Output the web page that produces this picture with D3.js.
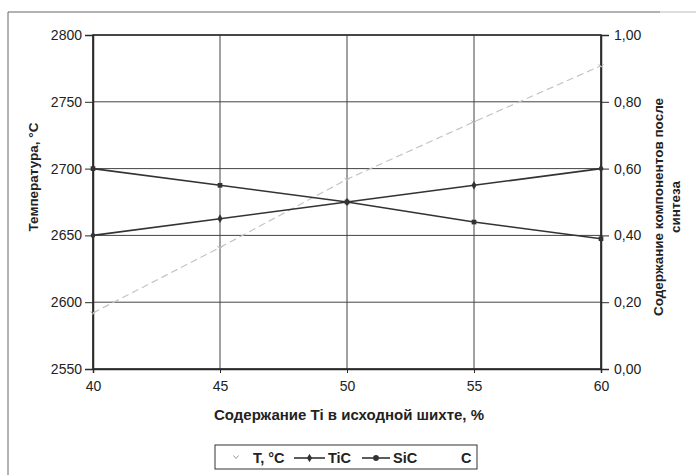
<!DOCTYPE html>
<html><head><meta charset="utf-8">
<script src="https://cdn.jsdelivr.net/npm/d3@7"></script>
<style>body{margin:0;background:#fff}svg{display:block}text{font-family:"Liberation Sans",Arial,sans-serif;fill:#222}</style>
</head><body><svg id="c" width="696" height="475"></svg>
<script>
const tiContent = [40, 45, 50, 55, 60];
const temperature = [2592, 2641, 2692, 2735, 2777];
const tic = [0.40, 0.45, 0.50, 0.55, 0.60];
const sic = [0.60, 0.55, 0.50, 0.44, 0.39];
const leftTicks = [2550, 2600, 2650, 2700, 2750, 2800];
const rightTicks = [0, 0.2, 0.4, 0.6, 0.8, 1.0];
const xTicks = [40, 45, 50, 55, 60];
const legendLabels = ["T, °C", "TiC", "SiC", "C"];

const svg = d3.select("#c");
const L = 93, R = 601, T = 35, B = 369;
const x = d3.scaleLinear().domain([40, 60]).range([L, R]);
const yL = d3.scaleLinear().domain([2550, 2800]).range([B, T]);
const yR = d3.scaleLinear().domain([0, 1]).range([B, T]);
const ink = "#2a2a2a";

// outer frame fragments
svg.append("line").attr("x1", 8).attr("x2", 660).attr("y1", 12).attr("y2", 12).attr("stroke", "#666").attr("stroke-width", 1);
svg.append("line").attr("x1", 660).attr("x2", 696).attr("y1", 12).attr("y2", 12).attr("stroke", "#bbb").attr("stroke-width", 1);
svg.append("line").attr("x1", 8).attr("x2", 8).attr("y1", 12).attr("y2", 475).attr("stroke", "#666").attr("stroke-width", 1);

// gridlines
const g = svg.append("g");
g.selectAll(".hg").data(leftTicks).join("line")
  .attr("x1", L).attr("x2", R).attr("y1", d => yL(d)).attr("y2", d => yL(d))
  .attr("stroke", "#444").attr("stroke-width", 1);
g.selectAll(".vg").data(xTicks).join("line")
  .attr("x1", d => x(d)).attr("x2", d => x(d)).attr("y1", T).attr("y2", B)
  .attr("stroke", "#444").attr("stroke-width", 1);
// border
svg.append("rect").attr("x", L).attr("y", T).attr("width", R - L).attr("height", B - T)
  .attr("fill", "none").attr("stroke", ink).attr("stroke-width", 1.5);

// axes
const fmtL = d3.format("d");
const fmtR = d => d3.format(".2f")(d).replace(".", ",");
const axL = svg.append("g").attr("transform", `translate(${L},0)`)
  .call(d3.axisLeft(yL).tickValues(leftTicks).tickFormat(fmtL).tickSize(8).tickPadding(3));
const axR = svg.append("g").attr("transform", `translate(${R},0)`)
  .call(d3.axisRight(yR).tickValues(rightTicks).tickFormat(fmtR).tickSize(8).tickPadding(5));
const axB = svg.append("g").attr("transform", `translate(0,${B})`)
  .call(d3.axisBottom(x).tickValues(xTicks).tickFormat(fmtL).tickSize(4).tickPadding(8));
[axL, axR, axB].forEach(a => {
  a.select(".domain").attr("stroke", ink).attr("stroke-width", 1.5);
  a.selectAll(".tick line").attr("stroke", ink);
  a.selectAll("text").attr("font-size", 14).attr("fill", "#222")
    .style("font-family", '"Liberation Sans",Arial,sans-serif');
});

// T series (light dashed)
const data = tiContent.map((v, i) => ({x: v, t: temperature[i], tic: tic[i], sic: sic[i]}));
svg.append("path").datum(data)
  .attr("d", d3.line().x(d => x(d.x)).y(d => yL(d.t)))
  .attr("fill", "none").attr("stroke", "#c4c4c4").attr("stroke-width", 1.2).attr("stroke-dasharray", "7,4");
svg.selectAll(".tm").data(data).join("path")
  .attr("transform", d => `translate(${x(d.x)},${yL(d.t)})`)
  .attr("d", "M-2.5,-1.5L0,1.5L2.5,-1.5").attr("fill", "none").attr("stroke", "#bbb");

// TiC and SiC
svg.append("path").datum(data)
  .attr("d", d3.line().x(d => x(d.x)).y(d => yR(d.tic)))
  .attr("fill", "none").attr("stroke", "#333").attr("stroke-width", 1.6);
svg.append("path").datum(data)
  .attr("d", d3.line().x(d => x(d.x)).y(d => yR(d.sic)))
  .attr("fill", "none").attr("stroke", "#333").attr("stroke-width", 1.6);
svg.selectAll(".m1").data(data).join("path")
  .attr("transform", d => `translate(${x(d.x)},${yR(d.tic)})`)
  .attr("d", d3.symbol(d3.symbolDiamond, 22)).attr("fill", "#333");
svg.selectAll(".m2").data(data).join("path")
  .attr("transform", d => `translate(${x(d.x)},${yR(d.sic)})`)
  .attr("d", d3.symbol(d3.symbolSquare, 22)).attr("fill", "#333");

// titles
svg.append("text").attr("transform", `translate(38,177) rotate(-90)`).attr("text-anchor", "middle")
  .attr("font-size", 13.5).attr("font-weight", "bold").text("Температура, °С");
const rt = svg.append("text").attr("transform", `translate(663,207) rotate(-90)`).attr("text-anchor", "middle")
  .attr("font-size", 13.5).attr("font-weight", "bold");
rt.append("tspan").attr("x", 0).attr("dy", 0).text("Содержание компонентов после");
rt.append("tspan").attr("x", 0).attr("dy", 17).text("синтеза");
svg.append("text").attr("x", 349).attr("y", 420).attr("text-anchor", "middle")
  .attr("font-size", 15).attr("font-weight", "bold").text("Содержание Ti в исходной шихте, %");

// legend
const lg = svg.append("g");
lg.append("rect").attr("x", 215).attr("y", 445).attr("width", 262).attr("height", 24)
  .attr("fill", "#fff").attr("stroke", "#333").attr("stroke-width", 1);
lg.append("path").attr("transform", "translate(236,457)").attr("d", "M-2.5,-1.5L0,1.5L2.5,-1.5")
  .attr("fill", "none").attr("stroke", "#999");
lg.append("line").attr("x1", 294).attr("x2", 325).attr("y1", 458).attr("y2", 458).attr("stroke", "#333").attr("stroke-width", 1.6);
lg.append("path").attr("transform", "translate(309.5,458)").attr("d", d3.symbol(d3.symbolDiamond, 22)).attr("fill", "#333");
lg.append("line").attr("x1", 362).attr("x2", 390).attr("y1", 458).attr("y2", 458).attr("stroke", "#333").attr("stroke-width", 1.6);
lg.append("path").attr("transform", "translate(376,458)").attr("d", d3.symbol(d3.symbolCircle, 26)).attr("fill", "#333");
const lx = [253, 328, 393, 461];
lg.selectAll(".lt").data(legendLabels).join("text")
  .attr("x", (d, i) => lx[i]).attr("y", 463).attr("font-size", 14.5).attr("font-weight", "bold").text(d => d);
</script></body></html>
